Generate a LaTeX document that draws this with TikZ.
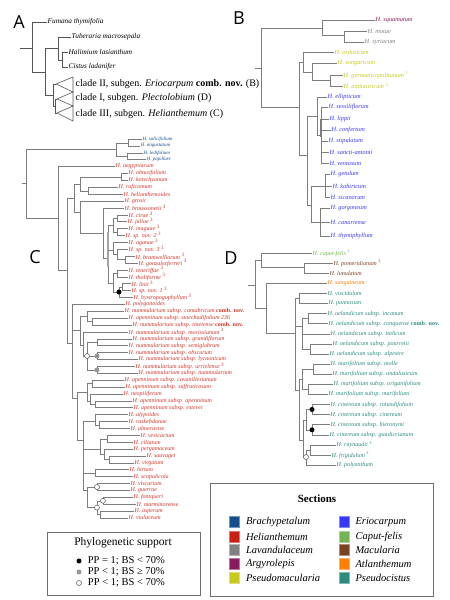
\documentclass[tikz,border=0pt]{standalone}
\usepackage{fontspec}
\setmainfont{Liberation Serif}
\newfontfamily\panelfont{Open Sans}
\usetikzlibrary{positioning}

\definecolor{TreeGrey}  {RGB}{125,125,125}
\definecolor{TreeDark}  {RGB}{85,85,85}
\definecolor{SupGrey}   {RGB}{150,150,150}
\definecolor{BoxGrey}   {RGB}{110,110,110}
\definecolor{SecBrachy} {RGB}{20,78,140}
\definecolor{SecHelian} {RGB}{200,30,20}
\definecolor{SecLavand} {RGB}{128,128,128}
\definecolor{SecArgyro} {RGB}{138,26,94}
\definecolor{SecPseudoM}{RGB}{200,200,30}
\definecolor{SecErio}   {RGB}{55,55,250}
\definecolor{SecCaput}  {RGB}{115,180,85}
\definecolor{SecMacul}  {RGB}{123,66,34}
\definecolor{SecAtlan}  {RGB}{255,127,0}
\definecolor{SecPseudoC}{RGB}{45,138,128}
\definecolor{LeafHelian}{RGB}{208,52,40}

\newcommand{\supthree}{\textsuperscript{\upshape 3}}
\newcommand{\combnov}{{\upshape\bfseries comb. nov.}}

\tikzset{
  branch/.style={draw=TreeGrey, line width=0.55pt},
  branchA/.style={draw=TreeDark, line width=0.6pt},
  panel/.style={font=\panelfont\fontsize{18}{18}\selectfont, inner sep=0pt},
  leafA/.style={anchor=west, inner sep=0.5pt, font=\fontsize{7.3}{8}\selectfont\itshape},
  leafB/.style={anchor=west, inner sep=0.5pt, font=\fontsize{6.3}{7}\selectfont\itshape},
  leafC/.style={anchor=west, inner sep=0.5pt, font=\fontsize{6}{7}\selectfont\itshape},
  leafBr/.style={anchor=west, inner sep=0.5pt, font=\fontsize{5}{6}\selectfont\itshape},
  leafD/.style={anchor=west, inner sep=0.5pt, font=\fontsize{6.1}{7}\selectfont\itshape},
  cladelab/.style={anchor=west, inner sep=0.5pt, font=\fontsize{10}{11}\selectfont},
  ppone/.style={circle, fill=black, inner sep=0pt, minimum size=5pt},
  ppgrey/.style={circle, fill=SupGrey, inner sep=0pt, minimum size=5pt},
  ppopen/.style={circle, draw=TreeDark, fill=white, line width=0.5pt, inner sep=0pt, minimum size=5pt},
  legbox/.style={draw=BoxGrey, line width=0.8pt},
  legtext/.style={inner sep=1pt, font=\fontsize{10.5}{12}\selectfont},
  swatch/.style={rectangle, inner sep=0pt, minimum width=10pt, minimum height=11pt, line width=0.6pt},
  sectext/.style={inner sep=1pt, font=\fontsize{10.5}{12}\selectfont\itshape},
}

\begin{document}
\begin{tikzpicture}[x=1pt, y=-1pt]
  \fill[white] (0,0) rectangle (450,600);
  \useasboundingbox (0,0) rectangle (450,600);

  % ---------------- Panel A: backbone ----------------
  \node[panel] (labA) at (19,22) {A};
  \draw[branchA] (20,48) -- (32,48) (32,22) -- (32,72);
  \draw[branchA] (32,72) -- (45,72) (45,48) -- (45,95);
  \draw[branchA] (45,48) -- (58,48) (58,37) -- (58,60);
  \draw[branchA] (58,60) -- (62,60) (62,52) -- (62,67);
  \node[leafA] (fumana)  at (47,22) {Fumana thymifolia};
  \node[leafA] (tuber)   at (71,37) {Tuberaria macrosepala};
  \node[leafA] (halim)   at (68,52) {Halimium lasianthum};
  \node[leafA] (cistus)  at (68,67) {Cistus ladanifer};
  \draw[branchA] (32,22) -- (fumana.west);
  \draw[branchA] (58,37) -- (tuber.west);
  \draw[branchA] (62,52) -- (halim.west);
  \draw[branchA] (62,67) -- (cistus.west);
  % collapsed clades
  \draw[branchA] (45,95) -- (53,95) (53,84) -- (53,106);
  \draw[branchA] (53,84) -- (56,84) (53,106) -- (55,106) (55,99) -- (55,113);
  \draw[branchA] (55,99) -- (57,99) (55,113) -- (57,113);
  \draw[branchA] (56,84) -- (73,77) -- (73,92) -- cycle;
  \draw[branchA] (57,99) -- (73,92) -- (73,106) -- cycle;
  \draw[branchA] (57,113) -- (73,106) -- (73,121) -- cycle;
  \node[cladelab] (cladeII)  at (75,84)  {clade II, subgen. \textit{Eriocarpum} \textbf{comb. nov.} (B)};
  \node[cladelab] (cladeI)   at (75,98)  {clade I, subgen. \textit{Plectolobium} (D)};
  \node[cladelab] (cladeIII) at (75,114) {clade III, subgen. \textit{Helianthemum} (C)};

  % ---------------- Panel B: subgen. Eriocarpum ----------------
  \node[panel] (labB) at (239,18) {B};
  \draw[branch] (255,68) -- (261,68) (261,28) -- (261,107);
  \draw[branch] (261,28) -- (322,28) (322,20) -- (322,35);
  \draw[branch] (322,35) -- (344,35) (344,31) -- (344,42);
  \draw[branch] (261,107) -- (299,107) (299,62) -- (299,155);
  \draw[branch] (299,62) -- (303,62) (303,52) -- (303,72);
  \draw[branch] (303,72) -- (312,72) (312,63) -- (312,80);
  \draw[branch] (312,80) -- (330,80) (330,75) -- (330,86);
  \draw[branch] (299,155) -- (307,155) (307,116) -- (307,205);
  \draw[branch] (307,116) -- (317,116) (317,97) -- (317,135);
  \draw[branch] (317,135) -- (321,135) (321,107) -- (321,163);
  \draw[branch, line width=1.1pt] (321,119) -- (321,137);
  \draw[branch] (307,205) -- (311,205) (311,186) -- (311,222);
  \draw[branch] (311,186) -- (325,186) (325,174) -- (325,197);
  \draw[branch] (311,222) -- (320,222) (320,208) -- (320,236);
  \foreach \n/\px/\tx/\ty/\col/\txt in {
      1/322/375/20/SecArgyro/{H. squamatum},
      2/344/367/31/SecLavand/{H. motae},
      3/344/364/42/SecLavand/{H. syriacum},
      4/303/334/52/SecPseudoM/{H. ordosicum},
      5/312/337/63/SecPseudoM/{H. songaricum},
      6/330/343/75/SecPseudoM/{H. germanicopolitanum \supthree},
      7/330/343/86/SecPseudoM/{H. antitauricum \supthree},
      8/317/327/97/SecErio/{H. ellipticum},
      9/321/328/107/SecErio/{H. sessiliflorum},
      10/321/329/119/SecErio/{H. lippii},
      11/321/331/130/SecErio/{H. confertum},
      12/321/328/141/SecErio/{H. stipulatum},
      13/321/329/152/SecErio/{H. sancti-antonii},
      14/321/329/163/SecErio/{H. ventosum},
      15/325/330/174/SecErio/{H. getulum},
      16/325/332/186/SecErio/{H. kahiricum},
      17/325/330/197/SecErio/{H. sicanorum},
      18/320/330/208/SecErio/{H. gorgoneum},
      19/320/330/222/SecErio/{H. canariense},
      20/320/330/236/SecErio/{H. thymiphyllum}}{
    \node[leafB, text=\col] (b\n) at (\tx,\ty) {\txt};
    \draw[branch] (\px,\ty) -- (b\n.west);
  }

  % ---------------- Panel C: subgen. Helianthemum ----------------
  \node[panel] (labC) at (35,257) {C};
  % sect. Brachypetalum
  \draw[branch] (22,183) -- (26,183) (26,149) -- (26,218);
  \draw[branch] (26,149) -- (116,149) (116,143) -- (116,156);
  \draw[branch] (116,143) -- (128,143) (128,139) -- (128,145.9);
  \draw[branch] (116,156) -- (127,156) (127,152.8) -- (127,159.7);
  % sect. Helianthemum, upper part
  \draw[branch] (26,218) -- (58,218) (58,166.6) -- (58,270);
  \draw[branch] (58,270) -- (67,270) (67,198) -- (67,343);
  \draw[branch] (67,198) -- (74,198) (74,184) -- (74,212);
  \draw[branch] (74,184) -- (80,184) (80,177) -- (80,191);
  \draw[branch] (80,177) -- (121,177) (121,173.5) -- (121,180.3);
  \draw[branch] (80,191) -- (88,191) (88,187.2) -- (88,194.1);
  \draw[branch] (74,212) -- (80,212) (80,201) -- (80,233);
  \draw[branch] (80,233) -- (103,233) (103,207.9) -- (103,258);
  \draw[branch] (103,258) -- (108,258) (108,225) -- (108,283);
  \draw[branch, line width=1.3pt, draw=TreeGrey!70] (108,232) -- (108,267);
  \draw[branch] (108,225) -- (113,225) (113,218) -- (113,232);
  \draw[branch] (113,218) -- (117,218) (117,214.8) -- (117,221.7);
  \draw[branch] (113,232) -- (117,232) (117,228.6) -- (117,235.5);
  \draw[branch] (108,250) -- (113,250) (113,242.4) -- (113,254);
  \draw[branch] (113,254) -- (117,254) (117,249.2) -- (117,259.6);
  \draw[branch] (117,259.6) -- (125,259.6) (125,256.1) -- (125,263);
  \draw[branch] (108,283) -- (113,283) (113,273.4) -- (113,292);
  \draw[branch] (113,273.4) -- (117,273.4) (117,269.9) -- (117,276.8);
  \draw[branch] (113,292) -- (119,292) (119,287) -- (119,297.5);
  \draw[branch] (119,287) -- (122,287) (122,283.7) -- (122,290.6);
  % sect. Helianthemum, lower part
  \draw[branch] (67,343) -- (72,343) (72,304.4) -- (72,398);
  \draw[branch] (72,330) -- (80,330) (80,316) -- (80,345);
  \draw[branch] (80,316) -- (87,316) (87,311.3) -- (87,321.6);
  \draw[branch] (87,321.6) -- (92,321.6) (92,318.2) -- (92,325);
  \draw[branch] (80,345) -- (83,345) (83,331.9) -- (83,356);
  \draw[branch] (83,356) -- (87,356) (87,342.3) -- (87,369.9);
  \draw[branch] (87,342.3) -- (97,342.3) (97,338.8) -- (97,345.7);
  \draw[branch] (87,356) -- (97,356) (97,352.6) -- (97,359.5);
  \draw[branch] (87,369.9) -- (97,369.9) (97,366.4) -- (97,373.3);
  \draw[branch] (72,398) -- (77,398) (77,392) -- (77,440);
  \draw[branch] (77,392) -- (87,392) (87,383.6) -- (87,401);
  \draw[branch] (87,383.6) -- (92,383.6) (92,380.2) -- (92,387.1);
  \draw[branch] (87,401) -- (90,401) (90,394) -- (90,404.3);
  \draw[branch] (90,404.3) -- (95,404.3) (95,400.9) -- (95,407.7);
  \draw[branch] (77,440) -- (83,440) (83,421) -- (83,490);
  \draw[branch] (83,421) -- (95,421) (95,414.6) -- (95,425);
  \draw[branch] (95,425) -- (99,425) (99,421.5) -- (99,428.4);
  \draw[branch] (83,449) -- (100,449) (100,438.8) -- (100,454);
  \draw[branch] (100,438.8) -- (107,438.8) (107,435.3) -- (107,442.2);
  \draw[branch] (100,454) -- (104,454) (104,449.1) -- (104,459.4);
  \draw[branch] (104,459.4) -- (109,459.4) (109,456) -- (109,462.9);
  \draw[branch] (83,473) -- (95,473) (95,469.8) -- (95,476.7);
  \draw[branch] (83,490) -- (87,490) (87,487) -- (87,507.6);
  \draw[branch] (87,487) -- (97,487) (97,483.5) -- (97,490.4);
  \draw[branch] (87,507.6) -- (97,507.6) (97,500.8) -- (97,514.5);
  \draw[branch] (97,500.8) -- (103,500.8) (103,497.3) -- (103,504.2);
  \draw[branch] (97,514.5) -- (100,514.5) (100,511.1) -- (100,518);
  % tips
  \foreach \i/\px/\tx/\txt in {
      1/128/142/{H. salicifolium},
      2/128/140/{H. angustatum},
      3/127/143/{H. ledifolium},
      4/127/146/{H. papillare}}{
    \pgfmathsetmacro\ty{139+6.89*(\i-1)}
    \node[leafBr, text=SecBrachy] (c\i) at (\tx,\ty) {\txt};
    \draw[branch] (\px,\ty) -- (c\i.west);
  }
  \foreach \i/\px/\tx/\txt in {
      5/58/115/{H. aegyptiacum},
      6/121/128/{H. obtusifolium},
      7/121/128/{H. kotschyanum},
      8/88/118/{H. ruficomum},
      9/88/123/{H. helianthemoides},
      10/80/124/{H. grosii},
      11/103/124/{H. broussonetii \supthree},
      12/117/128/{H. cirae \supthree},
      13/117/127/{H. juliae \supthree},
      14/117/128/{H. inaguae \supthree},
      15/117/125/{H. sp. nov. 2 \supthree},
      16/113/128/{H. aganae \supthree},
      17/117/128/{H. sp. nov. 3 \supthree},
      18/125/135/{H. bramwelliorum \supthree},
      19/125/138/{H. gonzalezferreri \supthree},
      20/117/128/{H. teneriffae \supthree},
      21/117/128/{H. tholiforme \supthree},
      22/122/131/{H. linii \supthree},
      23/122/131/{H. sp. nov. 1 \supthree},
      24/119/133/{H. bystropogophyllum \supthree},
      25/72/125/{H. polygonoides},
      26/87/124/{H. nummularium subsp. cantabricum \combnov},
      27/92/128/{H. apenninum subsp. stoechadifolium 236},
      28/92/132/{H. nummularium subsp. tinetense \combnov},
      29/83/128/{H. nummularium subsp. morissianum \supthree},
      30/97/132/{H. nummularium subsp. grandiflorum},
      31/97/128/{H. nummularium subsp. semiglabrum},
      32/97/128/{H. nummularium subsp. obscurum},
      33/97/138/{H. nummularium subsp. lycaonicum},
      34/97/135/{H. nummularium subsp. urrielense \supthree},
      35/97/138/{H. nummularium subsp. nummularium},
      36/92/124/{H. apenninum subsp. cavanillesianum},
      37/92/125/{H. apenninum subsp. suffruticosum},
      38/90/123/{H. neopiliferum},
      39/95/132/{H. apenninum subsp. apenninum},
      40/95/133/{H. apenninum subsp. estevei},
      41/95/128/{H. alypoides},
      42/99/128/{H. raskebdanae},
      43/99/130/{H. almeriense},
      44/107/140/{H. vesicarium},
      45/107/133/{H. ciliatum},
      46/104/133/{H. pergamaceum},
      47/109/146/{H. sauvagei},
      48/109/134/{H. virgatum},
      49/95/129/{H. hirtum},
      50/95/133/{H. scopulicola},
      51/97/130/{H. viscarium},
      52/97/130/{H. guerrae},
      53/103/133/{H. fontqueri},
      54/103/136/{H. marminorense},
      55/100/134/{H. asperum},
      56/100/128/{H. violaceum}}{
    \pgfmathsetmacro\ty{139+6.89*(\i-1)}
    \node[leafC, text=LeafHelian] (c\i) at (\tx,\ty) {\txt};
    \draw[branch] (\px,\ty) -- (c\i.west);
  }
  % support values
  \node[ppone]  (sC1) at (119,292) {};
  \node[ppopen] (sC2) at (87,356) {};
  \node[ppgrey] (sC3) at (97,356) {};
  \node[ppgrey] (sC4) at (97,369.9) {};
  \node[ppopen] (sC5) at (97,487) {};
  \node[ppopen] (sC6) at (103,500.8) {};
  \node[ppopen] (sC7) at (97,507.6) {};

  % ---------------- Panel D: subgen. Plectolobium ----------------
  \node[panel] (labD) at (231,258) {D};
  \draw[branch] (248,285) -- (255,285) (255,260) -- (255,308);
  \draw[branch] (255,260) -- (261,260) (261,253) -- (261,267);
  \draw[branch] (261,267) -- (304,267) (304,263.1) -- (304,273.2);
  \draw[branch] (255,308) -- (266,308) (266,283.3) -- (266,333);
  \draw[branch] (266,333) -- (295,333) (295,298.5) -- (295,390);
  \draw[branch] (295,298.5) -- (299,298.5) (299,293.4) -- (299,303.5);
  \draw[branch] (295,326) -- (302,326) (302,318.6) -- (302,349);
  \draw[branch] (302,318.6) -- (308,318.6) (308,313.6) -- (308,323.7);
  \draw[branch] (302,349) -- (310,349) (310,343.9) -- (310,354);
  \draw[branch] (295,390) -- (299,390) (299,379) -- (299,440);
  \draw[branch] (299,379) -- (302,379) (302,369.2) -- (302,389.4);
  \draw[branch] (302,369.2) -- (313,369.2) (313,364.1) -- (313,374.2);
  \draw[branch] (302,389.4) -- (308,389.4) (308,384.3) -- (308,394.4);
  \draw[branch] (299,440) -- (303,440) (303,420) -- (303,457);
  \draw[branch] (303,420) -- (306,420) (306,409.5) -- (306,429.8);
  \draw[branch] (306,409.5) -- (312,409.5) (312,404.5) -- (312,414.6);
  \draw[branch] (306,429.8) -- (312,429.8) (312,424.7) -- (312,434.8);
  \draw[branch] (303,457) -- (306,457) (306,450) -- (306,465.1);
  \draw[branch] (306,450) -- (310,450) (310,444.9) -- (310,455);
  \foreach \i/\px/\tx/\col/\txt in {
      1/261/312/SecCaput/{H. caput-felis \supthree},
      2/304/333/SecMacul/{H. pomeridianum \supthree},
      3/304/329/SecMacul/{H. lunulatum},
      4/266/327/SecAtlan/{H. sanguineum},
      5/299/327/SecPseudoC/{H. viscidulum},
      6/299/328/SecPseudoC/{H. pannosum},
      7/308/327/SecPseudoC/{H. oelandicum subsp. incanum},
      8/308/328/SecPseudoC/{H. oelandicum subsp. conquense \combnov},
      9/302/330/SecPseudoC/{H. oelandicum subsp. italicum},
      10/310/332/SecPseudoC/{H. oelandicum subsp. pourretii},
      11/310/329/SecPseudoC/{H. oelandicum subsp. alpestre},
      12/313/330/SecPseudoC/{H. marifolium subsp. molle},
      13/313/332/SecPseudoC/{H. marifolium subsp. andalusicum},
      14/308/333/SecPseudoC/{H. marifolium subsp. origanifolium},
      15/308/328/SecPseudoC/{H. marifolium subsp. marifolium},
      16/312/330/SecPseudoC/{H. cinereum subsp. rotundifolium},
      17/312/330/SecPseudoC/{H. cinereum subsp. cinereum},
      18/312/330/SecPseudoC/{H. cinereum subsp. hieronymi},
      19/312/329/SecPseudoC/{H. cinereum subsp. guadiccianum},
      20/310/336/SecPseudoC/{H. raynaudii \supthree},
      21/310/331/SecPseudoC/{H. frigidulum \supthree},
      22/306/336/SecPseudoC/{H. polyanthum}}{
    \pgfmathsetmacro\ty{253+10.1*(\i-1)}
    \node[leafD, text=\col] (d\i) at (\tx,\ty) {\txt};
    \draw[branch] (\px,\ty) -- (d\i.west);
  }
  \node[ppone]  (sD1) at (312,409.5) {};
  \node[ppone]  (sD2) at (312,429.8) {};
  \node[ppopen] (sD3) at (306,457) {};

  % ---------------- Legend: phylogenetic support ----------------
  \draw[legbox] (47,532) rectangle (200,595);
  \node[font=\fontsize{11.5}{13}\selectfont] (supTitle) at (123,543) {Phylogenetic support};
  \node[ppone]  (keyA) at (79,561) {};
  \node[ppgrey] (keyB) at (79,572) {};
  \node[ppopen] (keyC) at (79,583) {};
  \node[legtext, right=5pt of keyA] (keyAtxt) {PP = 1; BS < 70\%};
  \node[legtext, right=5pt of keyB] (keyBtxt) {PP < 1; BS ≥ 70\%};
  \node[legtext, right=5pt of keyC] (keyCtxt) {PP < 1; BS < 70\%};

  % ---------------- Legend: sections ----------------
  \draw[legbox] (210,483) rectangle (433,596);
  \node[font=\fontsize{11}{13}\selectfont\bfseries] (secTitle) at (317,499) {Sections};
  \foreach \col/\nm/\yy [count=\k] in {SecBrachy/Brachypetalum/522, SecHelian/Helianthemum/536.5,
      SecLavand/Lavandulaceum/550, SecArgyro/Argyrolepis/564, SecPseudoM/Pseudomacularia/578}{
    \node[swatch, fill=\col, draw=\col!60!white] (swL\k) at (234.5,\yy) {};
    \node[sectext, right=5pt of swL\k] (snL\k) {\nm};
  }
  \foreach \col/\nm/\yy [count=\k] in {SecErio/Eriocarpum/522, SecCaput/Caput-felis/536.5,
      SecMacul/Macularia/550, SecAtlan/Atlanthemum/564, SecPseudoC/Pseudocistus/578}{
    \node[swatch, fill=\col, draw=\col!60!white] (swR\k) at (344,\yy) {};
    \node[sectext, right=5pt of swR\k] (snR\k) {\nm};
  }
\end{tikzpicture}
\end{document}
